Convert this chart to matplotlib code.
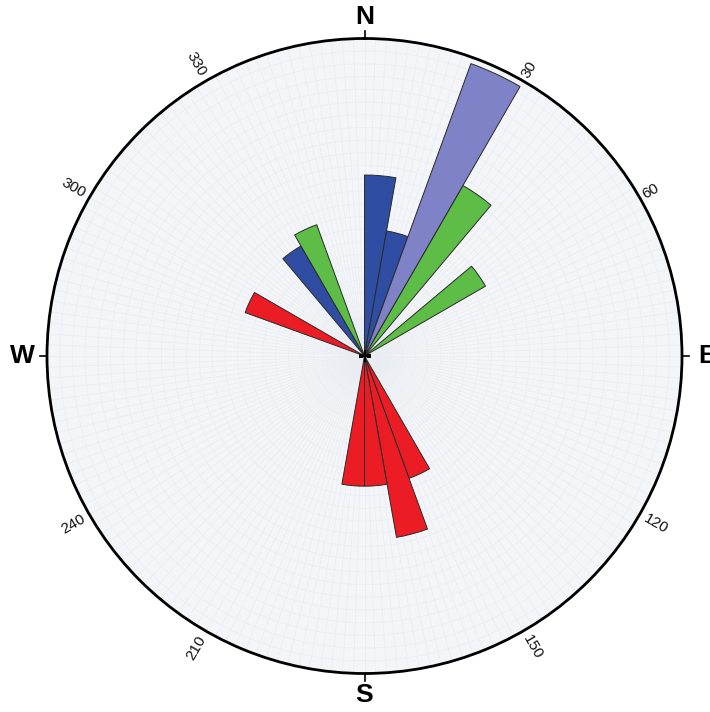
import numpy as np
import matplotlib
matplotlib.use("Agg")
import matplotlib.pyplot as plt

# Rose diagram: bins are 10 degrees wide, start azimuth (deg, clockwise from N)
# Lengths are in percent of the outer circle radius.
red_bins = [150, 160, 170, 180, 290]
red_vals = [41, 58, 41, 41, 40]

blue_bins = [0, 10, 320]
blue_vals = [57, 40, 40]

lavender_bins = [20]
lavender_vals = [98]

green_bins = [30, 50, 330]
green_vals = [62, 44, 44]

bin_width = 10
tick_angles = [30, 60, 120, 150, 210, 240, 300, 330]
cardinal_labels = ["N", "E", "S", "W"]
cardinal_angles = [0, 90, 180, 270]

colors = {
    "red": "#ec1c24",
    "blue": "#2f4ea3",
    "lavender": "#7f82c6",
    "green": "#5dbd47",
}

W, H = 710, 712
fig = plt.figure(figsize=(W / 100, H / 100), dpi=100)
cx, cy, R = 364.5, 356.0, 317.5
ax = fig.add_axes([(cx - R) / W, (H - cy - R) / H, 2 * R / W, 2 * R / H],
                  projection="polar")
ax.set_theta_zero_location("N")
ax.set_theta_direction(-1)
ax.set_ylim(0, 100)
ax.set_facecolor("#f3f5f8")
ax.set_xticks([])
ax.set_yticks([])
ax.grid(False)
ax.spines["polar"].set_linewidth(2.0)
ax.spines["polar"].set_color("black")

# faint background graticule
for t in np.arange(0, 360, 2):
    ax.plot([np.deg2rad(t)] * 2, [0, 100], color="#e8ecf1", lw=0.5, zorder=0)
for r in np.arange(4, 100, 4):
    th = np.linspace(0, 2 * np.pi, 361)
    ax.plot(th, np.full_like(th, r), color="#e9edf2", lw=0.5, zorder=0)


def draw(bins, vals, color):
    th = np.deg2rad(np.array(bins, dtype=float))
    ax.bar(th, vals, width=np.deg2rad(bin_width), align="edge", color=color,
           edgecolor="#2a2a2a", linewidth=0.7, zorder=3)


draw(red_bins, red_vals, colors["red"])
draw(blue_bins, blue_vals, colors["blue"])
draw(green_bins, green_vals, colors["green"])
draw(lavender_bins, lavender_vals, colors["lavender"])

# centre cross
ax.plot([0], [0], marker="+", color="black", markersize=9, mew=1.6, zorder=5)

# degree labels around the rim
for a in tick_angles:
    rot = 90 - a
    while rot > 90:
        rot -= 180
    while rot < -90:
        rot += 180
    txt = str(a)
    rr = 104.0 if len(txt) == 2 else 106.0
    ax.text(np.deg2rad(a), rr, txt, rotation=rot, rotation_mode="anchor",
            ha="center", va="center", fontsize=11, family="Liberation Sans",
            color="#111111", clip_on=False)

# cardinal ticks and letters
for lab, a in zip(cardinal_labels, cardinal_angles):
    t = np.deg2rad(a)
    ax.plot([t, t], [100, 102.3], color="black", lw=1.2, clip_on=False)
    rr = 106.8 if lab in ("N", "S") else 107.8
    ax.text(t, rr, lab, ha="center", va="center", fontsize=19,
            fontweight="bold", family="Liberation Sans", clip_on=False)

fig.savefig("out.png", dpi=100, facecolor="white")
